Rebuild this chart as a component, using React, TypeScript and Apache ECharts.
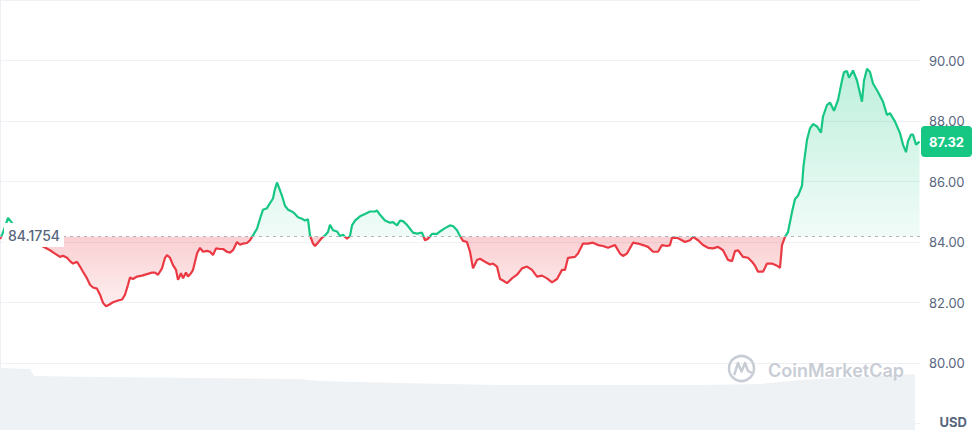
import React, { useEffect, useRef } from "react";
import * as echarts from "echarts";

// Reference price (opening) shown as the dotted baseline
const baseline = 84.1754;

// Time offsets (window units) and prices
const times = [
  0, 2.5, 5.5, 8, 11.5, 15, 21, 28, 36, 43, 50, 55, 60, 63, 67, 70, 73, 77, 80, 83, 87, 90, 93, 97, 100,
  103, 106, 109, 113, 118, 122, 125, 128, 130, 133, 137, 142, 147, 152, 155, 158, 162, 165, 167, 170, 173,
  176, 178, 181, 183, 186, 188, 191, 193, 197, 200, 203, 207, 210, 213, 216, 220, 223, 227, 230, 233, 237,
  240, 243, 247, 250, 253, 257, 260, 263, 267, 270, 273, 274.5, 277, 279, 282, 285, 288, 292, 295, 298,
  302, 305, 308, 310, 313, 315, 318, 322, 325, 328, 330, 333, 337, 340, 343, 347, 350, 352, 355, 360, 365,
  370, 375, 377, 380, 385, 390, 393, 397, 400, 403, 407, 410, 413, 417, 422, 425, 428, 432, 437, 440, 445,
  450, 453, 457, 460, 463, 467, 470, 473, 477, 480, 485, 490, 493, 497, 500, 503, 507, 512, 517, 522, 527,
  532, 537, 542, 547, 552, 557, 562, 565, 568, 575, 578, 583, 588, 593, 598, 603, 608, 615, 620, 623, 627,
  633, 638, 643, 648, 653, 658, 662, 667, 670, 672, 677, 680, 685, 690, 693, 698, 703, 708, 713, 718, 723,
  728, 732, 735, 738, 743, 748, 752, 755, 758, 763, 765, 767, 772, 777, 780, 782, 785, 788, 792, 795, 798,
  802, 803.5, 807, 810, 813, 817, 821, 823, 827, 830, 834, 838, 842, 844, 847, 849, 853, 857, 862, 864,
  867, 870, 873, 878, 883, 887, 890, 895, 900, 903, 906, 908, 911, 913, 916, 919.5,
];

const prices = [
  84.1, 84.28, 84.55, 84.8, 84.66, 84.48, 84.3, 84.12, 83.98, 83.85, 83.73, 83.62, 83.51, 83.55, 83.48,
  83.37, 83.29, 83.35, 83.19, 83.02, 82.8, 82.59, 82.5, 82.46, 82.26, 81.99, 81.88, 81.93, 82.01, 82.07,
  82.1, 82.26, 82.59, 82.83, 82.78, 82.86, 82.89, 82.94, 82.99, 82.99, 82.92, 83.13, 83.48, 83.57, 83.48,
  83.24, 83.08, 82.75, 82.97, 82.8, 82.99, 82.86, 82.97, 83.08, 83.62, 83.81, 83.68, 83.71, 83.68, 83.57,
  83.79, 83.77, 83.77, 83.68, 83.65, 83.73, 84.0, 83.91, 83.95, 83.97, 84.06, 84.22, 84.44, 84.77, 85.07,
  85.12, 85.29, 85.44, 85.69, 85.97, 85.8, 85.53, 85.2, 85.07, 85.01, 84.93, 84.82, 84.77, 84.71, 84.75,
  84.22, 83.95, 83.87, 83.98, 84.14, 84.22, 84.33, 84.57, 84.39, 84.35, 84.2, 84.24, 84.11, 84.2, 84.55,
  84.71, 84.85, 84.93, 85.01, 85.01, 85.04, 84.9, 84.71, 84.64, 84.66, 84.55, 84.71, 84.69, 84.57, 84.44,
  84.31, 84.28, 84.31, 84.06, 84.11, 84.27, 84.27, 84.35, 84.46, 84.55, 84.53, 84.39, 84.2, 84.04, 84.0,
  83.68, 83.13, 83.41, 83.45, 83.35, 83.26, 83.29, 83.19, 82.78, 82.73, 82.64, 82.8, 82.92, 83.13, 83.19,
  83.08, 82.86, 82.89, 82.8, 82.67, 82.78, 83.08, 83.08, 83.48, 83.51, 83.62, 83.95, 83.95, 83.98, 83.9,
  83.87, 83.81, 83.9, 83.62, 83.54, 83.62, 83.98, 83.95, 83.9, 83.84, 83.68, 83.68, 83.9, 83.87, 83.9,
  84.14, 84.14, 84.09, 84.0, 84.06, 84.17, 84.06, 83.9, 83.81, 83.79, 83.84, 83.73, 83.41, 83.37, 83.7,
  83.73, 83.51, 83.48, 83.35, 83.22, 83.02, 83.02, 83.15, 83.29, 83.29, 83.22, 83.15, 83.9, 84.17, 84.33,
  84.99, 85.42, 85.53, 85.86, 86.51, 87.38, 87.76, 87.9, 87.82, 87.62, 88.15, 88.53, 88.61, 88.34, 88.69,
  89.34, 89.62, 89.65, 89.43, 89.67, 89.34, 88.64, 89.34, 89.73, 89.62, 89.24, 88.96, 88.64, 88.2, 88.26,
  87.98, 87.6, 87.22, 86.97, 87.33, 87.55, 87.55, 87.22, 87.32,
];

// Volume band (relative scale 0-100)
const volTimes = [0, 30, 34, 100, 200, 300, 320, 400, 500, 600, 700, 760, 800, 860, 915];
const volumes = [88.6, 87.1, 77.1, 75.7, 74.3, 72.9, 70.0, 67.1, 64.3, 64.3, 64.3, 65.7, 71.4, 75.7, 80.0];

const priceAxis = { min: 78, max: 92, interval: 2 };
const windowEnd = 920;

const GREEN = "#16c784";
const RED = "#ea3943";
const LABEL = "#58667e";
const FONT = "Inter, 'Noto Sans', sans-serif";

export default function App() {
  const ref = useRef<HTMLDivElement>(null);

  useEffect(() => {
    if (!ref.current) return;
    const chart = echarts.init(ref.current, null, { renderer: "svg" });
    const lineData = times.map((t, i) => [t, prices[i]]);
    const upData = times.map((t, i) => [t, Math.max(prices[i], baseline)]);
    const downData = times.map((t, i) => [t, Math.min(prices[i], baseline)]);
    const volData = volTimes.map((t, i) => [t, volumes[i]]);
    const last = prices[prices.length - 1];
    const wm = "#c8cdd5";

    chart.setOption({
      animation: false,
      textStyle: { fontFamily: FONT },
      grid: [
        { left: 0, width: 920, top: -4.5, height: 428.1 },
        { left: 0, width: 920, top: 360, height: 70 },
      ],
      xAxis: [
        { type: "value", gridIndex: 0, min: 0, max: windowEnd, show: false },
        { type: "value", gridIndex: 1, min: 0, max: windowEnd, show: false },
      ],
      yAxis: [
        {
          type: "value",
          gridIndex: 0,
          position: "right",
          min: priceAxis.min,
          max: priceAxis.max,
          interval: priceAxis.interval,
          axisLine: { show: true, lineStyle: { color: "#eceff3", width: 1 } },
          axisTick: { show: false },
          splitLine: { show: true, lineStyle: { color: "#eff1f4", width: 1 } },
          axisLabel: {
            showMinLabel: false,
            showMaxLabel: false,
            formatter: (v: number) => v.toFixed(2),
            color: LABEL,
            fontSize: 13,
            fontFamily: FONT,
            margin: 9,
          },
        },
        { type: "value", gridIndex: 1, min: 0, max: 100, show: false },
      ],
      visualMap: {
        type: "piecewise",
        show: false,
        seriesIndex: 0,
        dimension: 1,
        pieces: [
          { gt: 0, lte: baseline, color: RED },
          { gt: baseline, lte: 1000, color: GREEN },
        ],
        outOfRange: { color: GREEN },
      },
      series: [
        {
          type: "line",
          data: lineData,
          xAxisIndex: 0,
          yAxisIndex: 0,
          symbol: "none",
          z: 4,
          lineStyle: { width: 2.2 },
          markLine: {
            silent: true,
            symbol: ["none", "none"],
            data: [
              {
                yAxis: baseline,
                lineStyle: { type: [3, 4], color: "#aeb5c2", width: 1 },
                label: { show: false },
              },
              {
                yAxis: last,
                lineStyle: { width: 1, color: "rgba(0,0,0,0)", type: "solid" },
                label: {
                  show: true,
                  position: "end",
                  distance: 1,
                  formatter: () => last.toFixed(2),
                  backgroundColor: GREEN,
                  color: "#ffffff",
                  fontWeight: "bold",
                  fontSize: 13,
                  fontFamily: FONT,
                  padding: [9, 8],
                  borderRadius: 4,
                  opacity: 1,
                },
              },
            ],
          },
        },
        {
          type: "line",
          data: upData,
          xAxisIndex: 0,
          yAxisIndex: 0,
          symbol: "none",
          z: 2,
          silent: true,
          lineStyle: { width: 0, opacity: 0 },
          areaStyle: {
            origin: baseline,
            opacity: 1,
            color: new echarts.graphic.LinearGradient(0, 0, 0, 1, [
              { offset: 0, color: "rgba(22,199,132,0.28)" },
              { offset: 1, color: "rgba(22,199,132,0.06)" },
            ]),
          },
        },
        {
          type: "line",
          data: downData,
          xAxisIndex: 0,
          yAxisIndex: 0,
          symbol: "none",
          z: 2,
          silent: true,
          lineStyle: { width: 0, opacity: 0 },
          areaStyle: {
            origin: baseline,
            opacity: 1,
            color: new echarts.graphic.LinearGradient(0, 0, 0, 1, [
              { offset: 0, color: "rgba(234,57,67,0.24)" },
              { offset: 1, color: "rgba(234,57,67,0.08)" },
            ]),
          },
        },
        {
          type: "line",
          data: volData,
          xAxisIndex: 1,
          yAxisIndex: 1,
          symbol: "none",
          z: 1,
          silent: true,
          lineStyle: { width: 0, opacity: 0 },
          areaStyle: { color: "#eff2f5", opacity: 1 },
        },
      ],
      graphic: [
        {
          type: "rect",
          z: 100,
          shape: { x: 4, y: 223, width: 60, height: 24 },
          style: { fill: "#ffffff" },
        },
        {
          type: "text",
          z: 101,
          x: 8,
          y: 235,
          style: {
            text: String(baseline),
            fill: LABEL,
            fontSize: 14,
            fontWeight: 500,
            fontFamily: FONT,
            align: "left",
            verticalAlign: "middle",
          },
        },
        {
          type: "text",
          z: 101,
          x: 967,
          y: 422,
          style: {
            text: "USD",
            fill: LABEL,
            fontSize: 13,
            fontWeight: "bold",
            fontFamily: FONT,
            align: "right",
            verticalAlign: "middle",
          },
        },
        {
          type: "circle",
          z: 50,
          shape: { cx: 741.5, cy: 368.5, r: 12.5 },
          style: { fill: "none", stroke: wm, lineWidth: 2.5 },
        },
        {
          type: "polyline",
          z: 50,
          shape: {
            points: [
              [734.5, 374],
              [738, 363],
              [741.5, 371.5],
              [745, 363],
              [748, 371],
              [751, 372.5],
            ],
          },
          style: { fill: "none", stroke: wm, lineWidth: 2.5, lineJoin: "round", lineCap: "round" },
        },
        {
          type: "text",
          z: 50,
          x: 768,
          y: 370,
          style: {
            text: "CoinMarketCap",
            fill: wm,
            fontSize: 18,
            fontWeight: 600,
            fontFamily: FONT,
            align: "left",
            verticalAlign: "middle",
          },
        },
      ],
    });

    return () => chart.dispose();
  }, []);

  return (
    <div
      ref={ref}
      style={{ position: "fixed", left: 0, top: 0, width: 980, height: 432, background: "#ffffff" }}
    />
  );
}
